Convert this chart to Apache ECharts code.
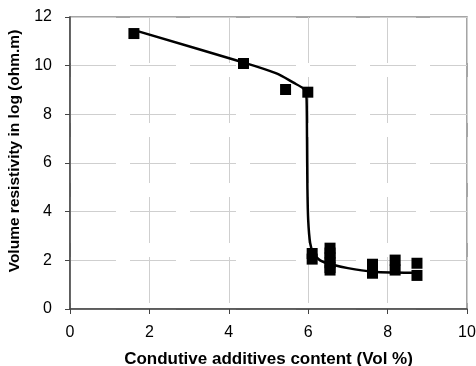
<!DOCTYPE html>
<html>
<head>
<meta charset="utf-8">
<script src="https://cdn.jsdelivr.net/npm/echarts@6/dist/echarts.min.js"></script>
<style>
  html, body { margin: 0; padding: 0; background: #fff; }
  #chart { width: 476px; height: 366px; }
</style>
</head>
<body>
<div id="chart"></div>
<script>
// measured points
var sampleX = [1.61, 4.37, 5.43, 5.99, 6.1, 6.1, 6.55, 6.55, 6.55, 6.55, 6.55, 6.55, 7.62, 7.62, 8.19, 8.19, 8.74, 8.74]
var sampleY = [11.32, 10.09, 9.02, 8.91, 2.28, 2.05, 2.5, 2.3, 2.1, 1.9, 1.7, 1.6, 1.84, 1.47, 2.01, 1.6, 1.88, 1.38]

// fitted curve as drawn
var fitX = [1.68, 4.37, 5.2, 5.63, 5.88, 5.94, 5.96, 5.97, 5.98, 6.0, 6.05, 6.13, 6.3, 6.55, 7.0, 7.64, 8.2, 8.74]
var fitY = [11.43, 10.13, 9.68, 9.3, 9.06, 8.9, 8.6, 7.0, 5.0, 3.65, 2.7, 2.29, 2.0, 1.85, 1.68, 1.53, 1.5, 1.49]

var xTicks = [0, 2, 4, 6, 8, 10]
var yTicks = [0, 2, 4, 6, 8, 10, 12]

var chart = echarts.init(document.getElementById('chart'))

function pairs(xs, ys) {
    return xs.map(function (x, i) { return [x, ys[i]] })
}

var gridLine = {
    show: true,
    lineStyle: { color: '#cfcfcf', width: 1, type: [46, 14] }
}

var option = {
    animation: false,
    textStyle: { fontFamily: 'Liberation Sans, Arial, sans-serif' },
    grid: {
        left: 70,
        right: 9,
        top: 17,
        bottom: 57,
        containLabel: false,
        outerBoundsMode: 'none',
        show: true,
        borderColor: '#888',
        borderWidth: 1.5,
        backgroundColor: '#fff'
    },
    xAxis: {
        type: 'value',
        min: xTicks[0],
        max: xTicks[xTicks.length - 1],
        interval: 2,
        name: 'Condutive additives content (Vol %)',
        nameLocation: 'middle',
        nameGap: 42,
        nameTextStyle: { fontSize: 17, fontWeight: 'bold', color: '#000' },
        axisLine: { lineStyle: { color: '#444', width: 1.5 } },
        axisTick: { show: true, length: 5, lineStyle: { color: '#444' } },
        axisLabel: { fontSize: 16, color: '#000', margin: 16 },
        splitLine: gridLine
    },
    yAxis: {
        type: 'value',
        min: yTicks[0],
        max: yTicks[yTicks.length - 1],
        interval: 2,
        name: 'Volume resistivity in log (ohm.m)',
        nameLocation: 'middle',
        nameGap: 47,
        nameTextStyle: { fontSize: 15.5, fontWeight: 'bold', color: '#000', padding: [0, 0, 0, 24] },
        axisLine: { show: true, lineStyle: { color: '#444', width: 1.5 } },
        axisTick: { show: true, length: 5, lineStyle: { color: '#444' } },
        axisLabel: { fontSize: 16, color: '#000', margin: 18 },
        splitLine: gridLine
    },
    series: [
        {
            type: 'line',
            data: pairs(fitX, fitY),
            smooth: 0.3,
            showSymbol: false,
            lineStyle: { color: '#000', width: 2.5 },
            z: 2
        },
        {
            type: 'scatter',
            data: pairs(sampleX, sampleY),
            symbol: 'rect',
            symbolSize: 11,
            itemStyle: { color: '#000', opacity: 1 },
            z: 3
        }
    ]
}
chart.setOption(option)
</script>
</body>
</html>
